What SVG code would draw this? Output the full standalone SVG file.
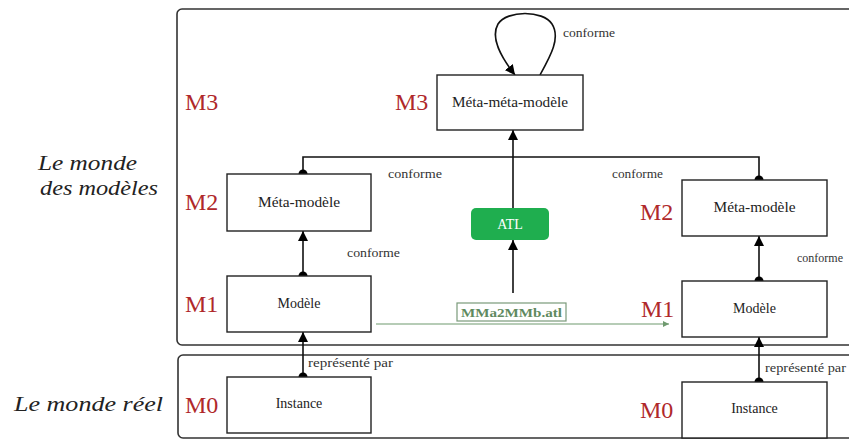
<svg xmlns="http://www.w3.org/2000/svg" width="849" height="441" viewBox="0 0 849 441">
<defs>
<style>
.frame{fill:none;stroke:#333;stroke-width:1.6}
.node{fill:#fff;stroke:#222;stroke-width:1.4}
.nt{font-family:"Liberation Serif","Times New Roman","DejaVu Serif","Noto Serif",serif;font-size:14px;fill:#222;text-anchor:middle}
.lvl{font-family:"Liberation Serif","Times New Roman","DejaVu Serif","Noto Serif",serif;font-size:24px;fill:#b0282b}
.lab{font-family:"Liberation Serif","Times New Roman","DejaVu Serif","Noto Serif",serif;font-size:13px;fill:#333}
.world{font-family:"Liberation Serif","Times New Roman","DejaVu Serif","Noto Serif",serif;font-style:italic;font-size:20px;fill:#222}
.ser{font-family:"Liberation Serif","Times New Roman","DejaVu Serif","Noto Serif",serif}
.edge{fill:none;stroke:#111;stroke-width:1.6}
.dot{fill:#000}
</style>
<marker id="arr" viewBox="0 0 10 10" refX="10" refY="5" markerWidth="10" markerHeight="10" markerUnits="userSpaceOnUse" orient="auto">
<path d="M0,0 L10,5 L0,10 z" fill="#000"/>
</marker>
<marker id="garr" viewBox="0 0 10 10" refX="10" refY="5" markerWidth="8" markerHeight="6" markerUnits="userSpaceOnUse" orient="auto">
<path d="M0,0 L10,5 L0,10 z" fill="#6f9a6f"/>
</marker>
</defs>
<rect width="849" height="441" fill="#fff"/>

<g id="frames">
<rect class="frame" x="177" y="9" width="720" height="336" rx="5"/>
<rect class="frame" x="178" y="355" width="720" height="83" rx="5"/>
</g>

<g id="world-labels">
<text class="world" x="38" y="170" textLength="99" lengthAdjust="spacingAndGlyphs">Le monde</text>
<text class="world" x="40" y="195" textLength="118" lengthAdjust="spacingAndGlyphs">des modèles</text>
<text class="world" x="14" y="411" textLength="149" lengthAdjust="spacingAndGlyphs">Le monde réel</text>
</g>

<g id="levels">
<text class="lvl" x="185" y="110">M3</text>
<text class="lvl" x="395" y="110">M3</text>
<text class="lvl" x="185" y="210">M2</text>
<text class="lvl" x="185" y="312">M1</text>
<text class="lvl" x="185" y="413">M0</text>
<text class="lvl" x="640" y="220">M2</text>
<text class="lvl" x="641" y="317">M1</text>
<text class="lvl" x="640" y="418">M0</text>
</g>

<g id="connectors">
<path class="edge" d="M540,75 C550,57 561,38 552,24 C543,10 507,10 498,24 C490,38 501,57 515,75" marker-end="url(#arr)"/>
<path class="edge" d="M513,208 L513,130" marker-end="url(#arr)"/>
<path class="edge" d="M303,174 L303,157 L759,157 L759,180"/>
<path class="edge" d="M513,293 L513,240" marker-end="url(#arr)"/>
<path class="edge" d="M303,276 L303,231" marker-end="url(#arr)"/>
<path class="edge" d="M303,377 L303,332" marker-end="url(#arr)"/>
<path class="edge" d="M759,281 L759,236" marker-end="url(#arr)"/>
<path class="edge" d="M759,382 L759,337" marker-end="url(#arr)"/>
<path d="M376,324 L669,324" stroke="#6f9a6f" stroke-width="1.2" fill="none" marker-end="url(#garr)"/>
<circle class="dot" cx="303" cy="174" r="4.5"/>
<circle class="dot" cx="759" cy="180" r="4.5"/>
<circle class="dot" cx="303" cy="276" r="4.5"/>
<circle class="dot" cx="303" cy="377" r="4.5"/>
<circle class="dot" cx="759" cy="281" r="4.5"/>
<circle class="dot" cx="759" cy="382" r="4.5"/>
<text class="lab" x="563" y="37" textLength="52" lengthAdjust="spacingAndGlyphs">conforme</text>
<text class="lab" x="388" y="178" textLength="54" lengthAdjust="spacingAndGlyphs">conforme</text>
<text class="lab" x="612" y="178" textLength="51" lengthAdjust="spacingAndGlyphs">conforme</text>
<text class="lab" x="347" y="257" textLength="53" lengthAdjust="spacingAndGlyphs">conforme</text>
<text class="lab" x="797" y="262" textLength="46" lengthAdjust="spacingAndGlyphs">conforme</text>
<text class="lab" x="308" y="367" textLength="85" lengthAdjust="spacingAndGlyphs">représenté par</text>
<text class="lab" x="765" y="372" textLength="81" lengthAdjust="spacingAndGlyphs">représenté par</text>
</g>

<g id="n-mmm">
<rect class="node" x="437" y="75" width="146" height="55"/>
<text class="nt" x="510" y="107" textLength="116" lengthAdjust="spacingAndGlyphs">Méta-méta-modèle</text>
</g>
<g id="n-atl">
<rect x="471" y="208" width="78" height="32" rx="5" fill="#1fae4f"/>
<text class="ser" x="510" y="229" font-size="14" fill="#fff" text-anchor="middle">ATL</text>
</g>
<g id="n-transfo">
<rect x="457" y="303" width="109" height="18" fill="#fff" stroke="#7a9a7a" stroke-width="1.2"/>
<text class="ser" x="511.5" y="317" font-size="13" font-weight="bold" fill="#5f8a5f" text-anchor="middle" textLength="101" lengthAdjust="spacingAndGlyphs">MMa2MMb.atl</text>
</g>
<g id="n-mm-left">
<rect class="node" x="227" y="174" width="144" height="57"/>
<text class="nt" x="299" y="207" textLength="82" lengthAdjust="spacingAndGlyphs">Méta-modèle</text>
</g>
<g id="n-m-left">
<rect class="node" x="227" y="276" width="144" height="56"/>
<text class="nt" x="299" y="308">Modèle</text>
</g>
<g id="n-i-left">
<rect class="node" x="227" y="377" width="144" height="56"/>
<text class="nt" x="299" y="408">Instance</text>
</g>
<g id="n-mm-right">
<rect class="node" x="682" y="180" width="145" height="56"/>
<text class="nt" x="754.5" y="212" textLength="82" lengthAdjust="spacingAndGlyphs">Méta-modèle</text>
</g>
<g id="n-m-right">
<rect class="node" x="682" y="281" width="145" height="56"/>
<text class="nt" x="754.5" y="313">Modèle</text>
</g>
<g id="n-i-right">
<rect class="node" x="682" y="382" width="145" height="56"/>
<text class="nt" x="754.5" y="413">Instance</text>
</g>
</svg>
